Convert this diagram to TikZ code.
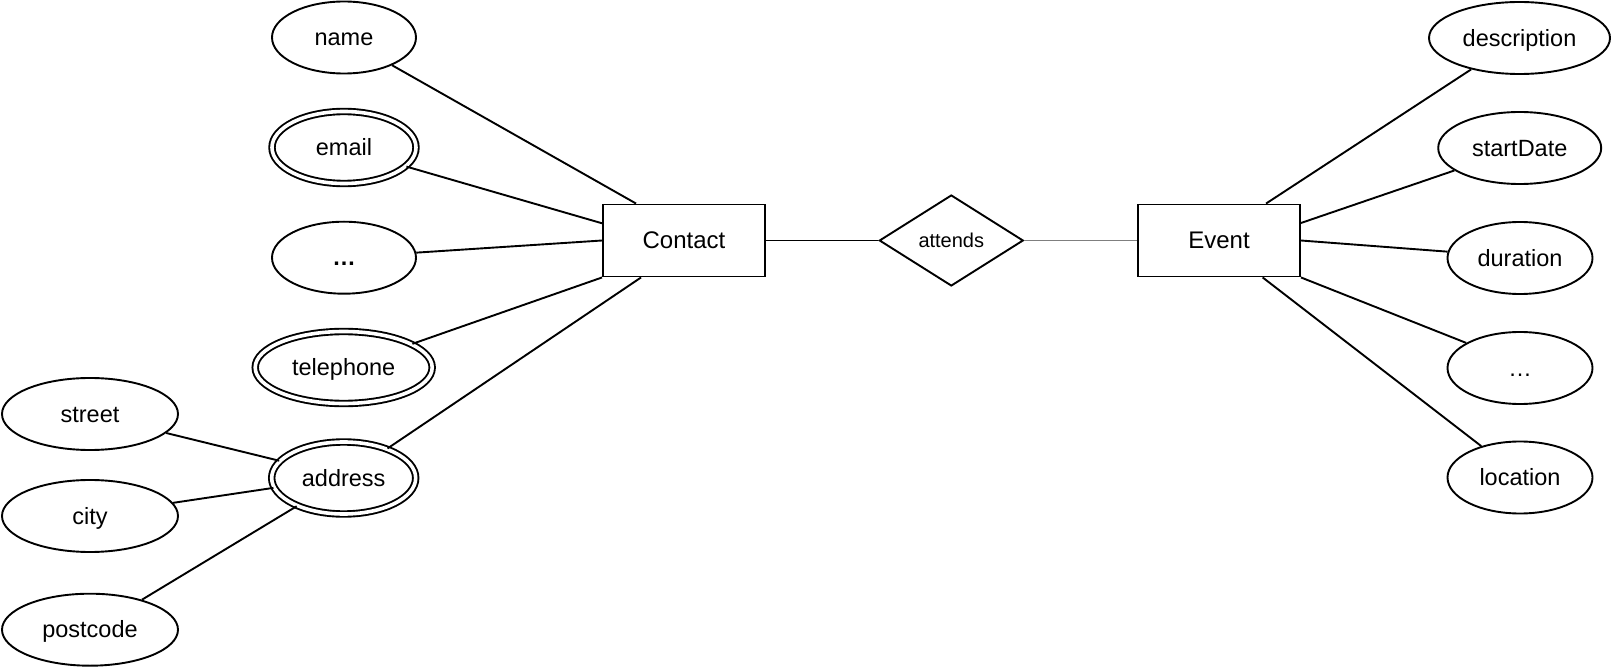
\documentclass[tikz,border=0pt]{standalone}
\usepackage{fontspec}
\setmainfont{Liberation Sans}
\usetikzlibrary{shapes.geometric,calc}
\begin{document}
\begin{tikzpicture}[x=1pt,y=-1pt,
  attr/.style={draw, ellipse, line width=1.9pt, inner sep=0pt, minimum height=72pt, font=\fontsize{23.5}{28}\selectfont, text height=21pt, text depth=4.6pt},
  mattr/.style={attr, double, double distance=3.6pt},
  entity/.style={draw, rectangle, line width=1.9pt, inner sep=0pt, minimum width=162pt, minimum height=72pt, font=\fontsize{24}{28}\selectfont, text height=20.2pt, text depth=5pt},
  rel/.style={draw, diamond, line width=1.9pt, inner sep=0pt, minimum width=144pt, minimum height=91pt, font=\fontsize{20}{24}\selectfont, text height=17.6pt, text depth=4pt},
  conn/.style={line width=1.9pt},
  grayconn/.style={line width=1.9pt, draw={rgb,255:red,127;green,127;blue,127}}]
\useasboundingbox (0,0) rectangle (1612,668);

% entities and relationship
\node[entity] (contact) at (684,240.5) {Contact};
\node[entity] (event) at (1219,240.5) {Event};
\node[rel] (attends) at (951.3,240.5) {attends};

% contact attributes
\node[attr, minimum width=144pt] (name) at (344,37.5) {name};
\node[mattr, minimum width=144pt] (email) at (344,147.5) {email};
\node[attr, minimum width=144pt] (cdots) at (344,257.7) {\textbf{…}};
\node[mattr, minimum width=177pt] (telephone) at (343.7,367.5) {telephone};
\node[mattr, minimum width=144pt] (address) at (343.7,478) {address};

% address parts
\node[attr, minimum width=176pt] (street) at (90,414) {street};
\node[attr, minimum width=176pt] (city) at (90,516) {city};
\node[attr, minimum width=176pt] (postcode) at (90,629.7) {postcode};

% event attributes
\node[attr, minimum width=181pt] (description) at (1519.5,38) {description};
\node[attr, minimum width=163pt] (startdate) at (1519.7,148) {startDate};
\node[attr, minimum width=145pt] (duration) at (1520,258) {duration};
\node[attr, minimum width=145pt] (edots) at (1520,368) {…};
\node[attr, minimum width=145pt] (location) at (1520,477.5) {location};

% connectors: contact
\draw[conn] (name.-30.4) -- ([xshift=34pt]contact.north west);
\draw[conn] (email.-17) -- ([yshift=17.2pt]contact.west);
\draw[conn] (cdots.4.5) -- (contact.west);
\draw[conn] (telephone.19) -- (contact.south west);
\draw[conn] (address.34.5) -- ([xshift=39pt]contact.south west);

% connectors: address parts
\draw[conn] (street.-14.3) -- (address.165.5);
\draw[conn] (city.9) -- (address.188.6);
\draw[conn] (postcode.30.8) -- (address.211);

% relationship
\draw[conn] (contact.east) -- (attends.west);
\draw[grayconn] (attends.east) -- (event.west);

% connectors: event
\draw[conn] ([xshift=129pt]event.north west) -- (description.213.8);
\draw[conn] ([yshift=17.5pt]event.east) -- (startdate.199.8);
\draw[conn] (event.east) -- (duration.175.5);
\draw[conn] (event.south east) -- (edots.155.8);
\draw[conn] ([xshift=125.6pt]event.south west) -- (location.141.9);
\end{tikzpicture}
\end{document}
